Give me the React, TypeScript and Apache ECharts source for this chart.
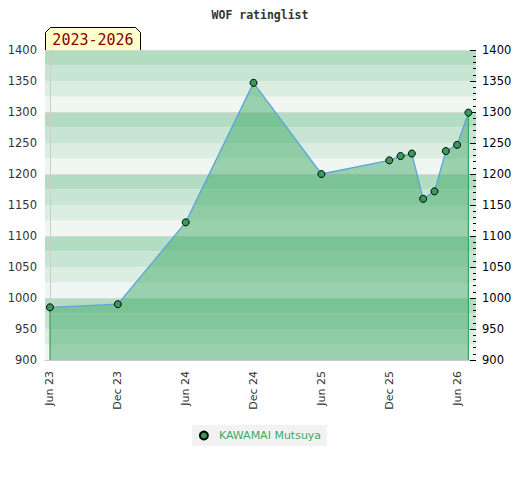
import React, { useEffect, useRef } from "react";
import * as echarts from "echarts";

const chartTitle = "WOF ratinglist";
const periodLabel = "2023-2026";
const playerName = "KAWAMAI Mutsuya";

// rating dates (YYYY-MM) and ratings
const dates = [
  "2023-06", "2023-12", "2024-06", "2024-12", "2025-06", "2025-12",
  "2026-01", "2026-02", "2026-03", "2026-04", "2026-05", "2026-06", "2026-07",
];
const ratings = [985, 990, 1122, 1347, 1200, 1222, 1229, 1233, 1160, 1172, 1237, 1247, 1299];

// x tick labels
const tickDates = ["2023-06", "2023-12", "2024-06", "2024-12", "2025-06", "2025-12", "2026-06"];
const tickLabels = ["Jun 23", "Dec 23", "Jun 24", "Dec 24", "Jun 25", "Dec 25", "Jun 26"];

const toMonth = (d: string) => {
  const [y, m] = d.split("-").map(Number);
  return (y - 2023) * 12 + (m - 6);
};

const bandColors = ["#f0f7f2", "#dcede2", "#c8e5d3", "#b3ddc3"];

export default function App() {
  const ref = useRef<HTMLDivElement>(null);
  useEffect(() => {
    if (!ref.current) return;
    const chart = echarts.init(ref.current, null, { renderer: "svg" });
    const pts = dates.map((d, i) => [toMonth(d), ratings[i]]);
    const first = pts[0];
    const last = pts[pts.length - 1];
    const tickVals = tickDates.map(toMonth);
    const font = "DejaVu Sans";
    chart.setOption({
      animation: false,
      title: {
        text: chartTitle,
        left: "center",
        top: 4,
        textStyle: { fontFamily: "DejaVu Sans Mono", fontWeight: "bold", fontSize: 11.5, color: "#333" },
      },
      grid: { left: 45, right: 44, top: 50, bottom: 120 },
      legend: {
        data: [playerName],
        bottom: 34,
        left: "center",
        backgroundColor: "#f2f2f2",
        padding: [5, 6, 5, 7],
        icon: "circle",
        itemWidth: 8,
        itemHeight: 8,
        itemGap: 8,
        textStyle: { color: "#3da866", fontFamily: font, fontSize: 11, padding: [0, 0, 0, 6] },
      },
      xAxis: {
        type: "value",
        min: -0.44,
        max: 37.67,
        axisLine: { show: true, lineStyle: { color: "#ccc" } },
        axisTick: { show: false },
        splitLine: { show: false },
        axisLabel: {
          customValues: tickVals,
          rotate: 90,
          margin: 11,
          color: "#333",
          fontFamily: font,
          fontSize: 11,
          formatter: (v: number) => {
            const i = tickVals.indexOf(Math.round(v));
            return i >= 0 ? tickLabels[i] : "";
          },
        },
      },
      yAxis: [
        {
          type: "value",
          position: "left",
          min: 900,
          max: 1400,
          interval: 50,
          axisLine: { show: true, lineStyle: { color: "#ccc" } },
          axisTick: { show: false },
          splitLine: { show: false },
          axisLabel: { color: "#333", fontFamily: font, fontSize: 11.5, margin: 8, formatter: (v: number) => String(v) },
        },
        {
          type: "value",
          position: "right",
          min: 900,
          max: 1400,
          interval: 50,
          axisLine: { show: false },
          axisTick: { show: true, inside: true, length: 6, lineStyle: { color: "#000" } },
          minorTick: { show: true, splitNumber: 5, length: 3, lineStyle: { color: "#000" } },
          splitLine: { show: false },
          axisLabel: { color: "#000", fontFamily: font, fontSize: 11.5, margin: 6, formatter: (v: number) => String(v) },
        },
        {
          type: "value",
          position: "left",
          min: 900,
          max: 1400,
          interval: 25,
          axisLine: { show: false },
          axisTick: { show: false },
          axisLabel: { show: false },
          splitLine: { show: false },
          splitArea: { show: true, areaStyle: { color: bandColors } },
        },
        {
          type: "value",
          position: "left",
          min: 900,
          max: 1400,
          interval: 100,
          axisLine: { show: false },
          axisTick: { show: false },
          axisLabel: { show: false },
          splitLine: { show: true, lineStyle: { color: "#d8d8d8", width: 1 } },
        },
      ],
      series: [
        {
          name: playerName,
          type: "line",
          data: pts,
          z: 5,
          symbol: "circle",
          symbolSize: 7,
          itemStyle: { color: "#3a9a5a", borderColor: "#000", borderWidth: 1 },
          lineStyle: { color: "#5ea4de", width: 1.3 },
          areaStyle: { color: "rgb(66,170,104)", opacity: 0.5, origin: "start" },
        },
        {
          name: "edgeL",
          type: "line",
          data: [[first[0], 900], first],
          symbol: "none",
          silent: true,
          z: 4,
          lineStyle: { color: "#35a85a", width: 1.2 },
        },
        {
          name: "edgeR",
          type: "line",
          data: [[last[0], 900], last],
          symbol: "none",
          silent: true,
          z: 4,
          lineStyle: { color: "#35a85a", width: 1.2 },
        },
      ],
      graphic: [
        {
          type: "group",
          left: 45,
          top: 27,
          children: [
            {
              type: "polygon",
              shape: { points: [[0, 23], [0, 5], [5, 0], [90, 0], [95, 5], [95, 23]] },
              style: { fill: "#ffffcc", stroke: "#000", lineWidth: 1 },
            },
            {
              type: "text",
              x: 47.5,
              y: 12.5,
              style: {
                text: periodLabel,
                fill: "#8b0000",
                font: "15px 'DejaVu Sans Mono'",
                align: "center",
                verticalAlign: "middle",
              },
            },
          ],
        },
      ],
    });
    return () => chart.dispose();
  }, []);
  return <div ref={ref} style={{ position: "absolute", left: 0, top: 0, width: 520, height: 480 }} />;
}
